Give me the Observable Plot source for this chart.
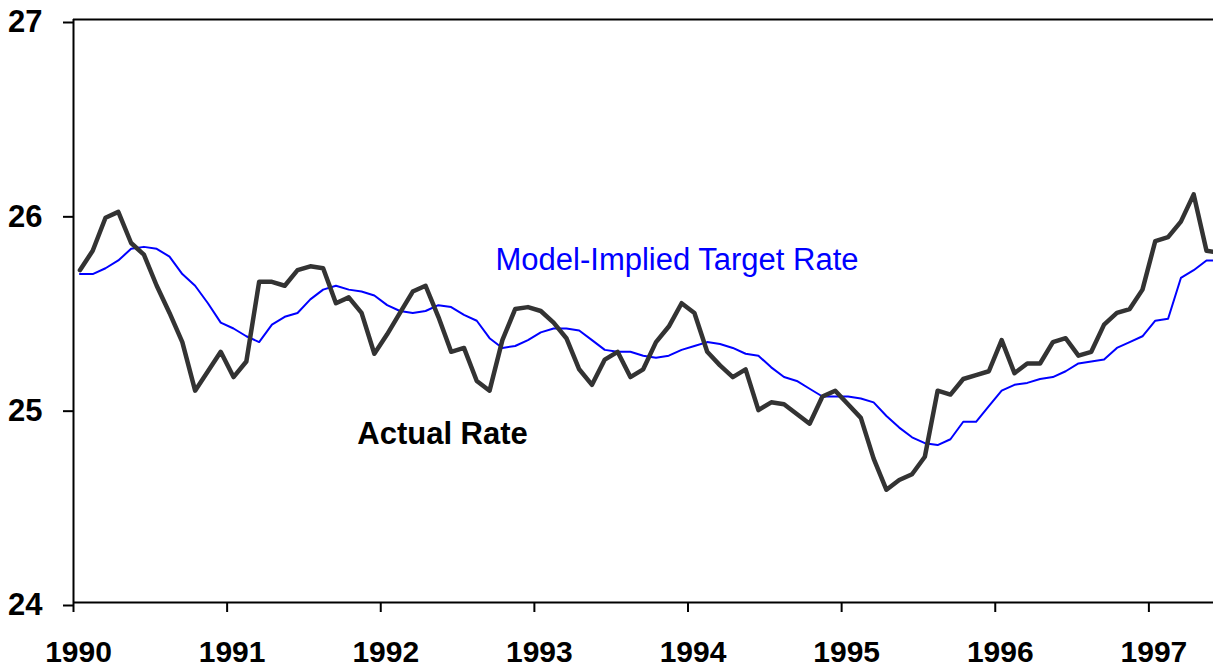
<!DOCTYPE html>
<html>
<head>
<meta charset="utf-8">
<script src="https://cdn.jsdelivr.net/npm/d3@7"></script>
<script src="https://cdn.jsdelivr.net/npm/@observablehq/plot@0.6"></script>
<style>
  html, body { margin: 0; padding: 0; background: #fff; }
  #chart svg { display: block; }
</style>
</head>
<body>
<div id="chart"></div>
<script>
// Monthly observations starting January 1990 (plotted at mid-month)
const startYear = 1990;
const actualRate = [
  25.71, 25.81, 25.98, 26.01, 25.85, 25.79, 25.63, 25.49, 25.34, 25.09, 25.19, 25.29,
  25.16, 25.24, 25.65, 25.65, 25.63, 25.71, 25.73, 25.72, 25.54, 25.57, 25.49, 25.28,
  25.38, 25.49, 25.60, 25.63, 25.47, 25.29, 25.31, 25.14, 25.09, 25.35, 25.51, 25.52,
  25.50, 25.44, 25.36, 25.20, 25.12, 25.25, 25.29, 25.16, 25.20, 25.34, 25.42, 25.54,
  25.49, 25.29, 25.22, 25.16, 25.20, 24.99, 25.03, 25.02, 24.97, 24.92, 25.06, 25.09,
  25.02, 24.95, 24.74, 24.58, 24.63, 24.66, 24.75, 25.09, 25.07, 25.15, 25.17, 25.19,
  25.35, 25.18, 25.23, 25.23, 25.34, 25.36, 25.27, 25.29, 25.43, 25.49, 25.51, 25.61,
  25.86, 25.88, 25.96, 26.10, 25.81, 25.80
];
const targetRate = [
  25.69, 25.69, 25.72, 25.76, 25.82, 25.83, 25.82, 25.78, 25.69, 25.63, 25.54, 25.44,
  25.41, 25.37, 25.34, 25.43, 25.47, 25.49, 25.56, 25.61, 25.63, 25.61, 25.60, 25.58,
  25.53, 25.50, 25.49, 25.50, 25.53, 25.52, 25.48, 25.45, 25.36, 25.31, 25.32, 25.35,
  25.39, 25.41, 25.41, 25.40, 25.35, 25.30, 25.29, 25.29, 25.27, 25.26, 25.27, 25.30,
  25.32, 25.34, 25.33, 25.31, 25.28, 25.27, 25.21, 25.16, 25.14, 25.10, 25.06, 25.06,
  25.06, 25.05, 25.03, 24.96, 24.90, 24.85, 24.82, 24.81, 24.84, 24.93, 24.93, 25.01,
  25.09, 25.12, 25.13, 25.15, 25.16, 25.19, 25.23, 25.24, 25.25, 25.31, 25.34, 25.37,
  25.45, 25.46, 25.67, 25.71, 25.76, 25.76
];
const yearTicks = [1990, 1991, 1992, 1993, 1994, 1995, 1996, 1997];
const rateTicks = [24, 25, 26, 27];
const targetLabel = [{text: "Model-Implied Target Rate", x: 1992.747, y: 25.76}];
const actualLabel = [{text: "Actual Rate", x: 1991.847, y: 24.866}];

const toTime = i => startYear + (i + 0.5) / 12;
const actual = actualRate.map((v, i) => ({t: toTime(i), v}));
const target = targetRate.map((v, i) => ({t: toTime(i), v}));

const FONT = "'Liberation Sans', Arial, Helvetica, sans-serif";

const chart = Plot.plot({
  width: 1213,
  height: 670,
  marginLeft: 73,
  marginRight: 0,
  marginTop: 19,
  marginBottom: 68,
  style: {fontFamily: FONT, background: "#fff", color: "#000"},
  x: {domain: [1990, 1997.4206], label: null},
  y: {domain: [24, 27], label: null},
  marks: [
    // x tick marks only
    Plot.axisX({
      ticks: yearTicks, tickFormat: () => "", tickSize: 10,
      strokeWidth: 2, label: null
    }),
    // x tick labels only (slightly offset right, as in the original)
    Plot.axisX({
      ticks: yearTicks, tickFormat: d => String(d), tickSize: 0, tickPadding: 38,
      fontSize: 30, fontWeight: "bold", dx: 5, label: null
    }),
    Plot.axisY({
      ticks: rateTicks, tickFormat: d => String(d), tickSize: 10, tickPadding: 21,
      strokeWidth: 2, fontSize: 31, fontWeight: "bold", dy: 3, label: null
    }),
    Plot.ruleY([27], {stroke: "#000", strokeWidth: 2}),
    Plot.ruleY([24], {stroke: "#000", strokeWidth: 2}),
    Plot.ruleX([1990], {stroke: "#000", strokeWidth: 2}),
    Plot.line(target, {x: "t", y: "v", stroke: "#0000ff", strokeWidth: 2, clip: true}),
    Plot.line(actual, {x: "t", y: "v", stroke: "#333333", strokeWidth: 4.5, clip: true}),
    Plot.text(targetLabel, {
      x: "x", y: "y", text: "text", textAnchor: "start", lineAnchor: "middle",
      fontSize: 31, fill: "#0000ff"
    }),
    Plot.text(actualLabel, {
      x: "x", y: "y", text: "text", textAnchor: "start", lineAnchor: "middle",
      fontSize: 31, fontWeight: "bold", fill: "#000"
    })
  ]
});
document.getElementById("chart").appendChild(chart);
</script>
</body>
</html>
